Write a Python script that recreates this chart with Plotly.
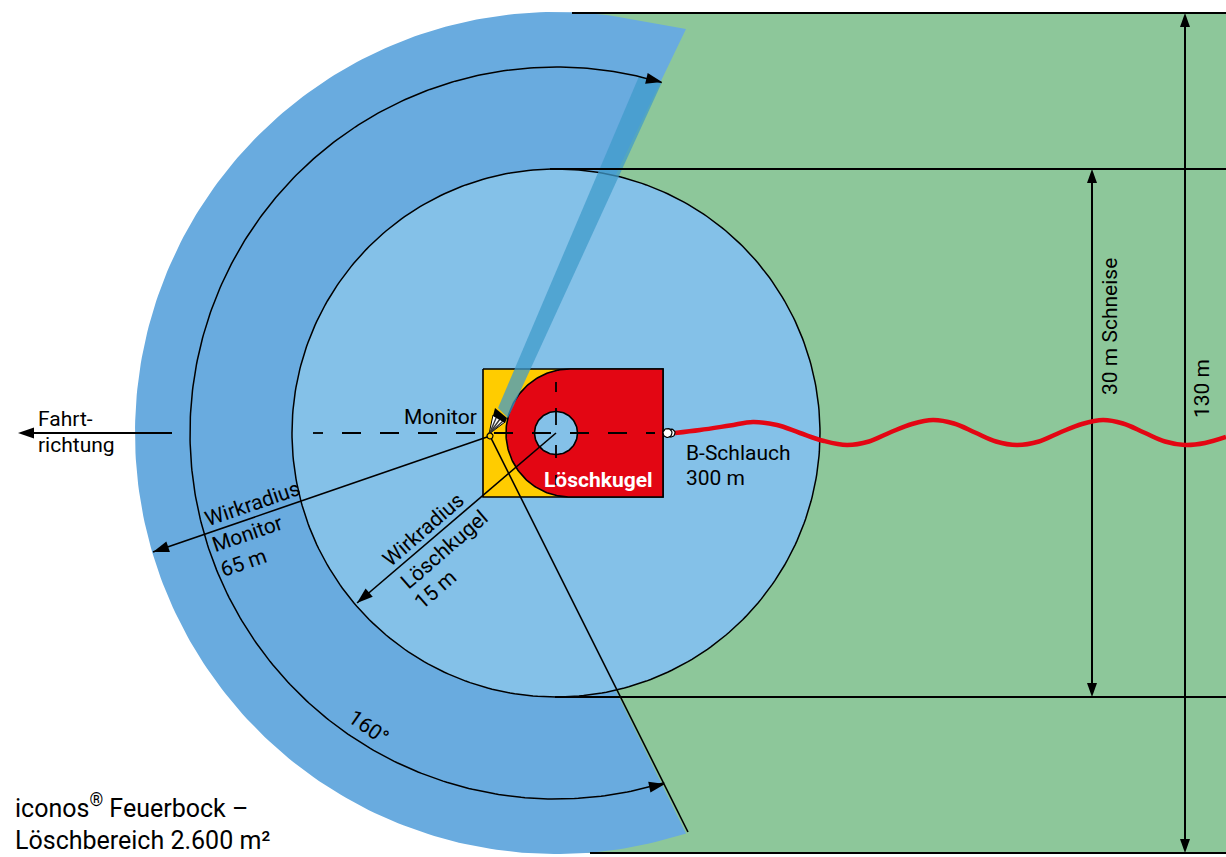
import numpy as np
import plotly.graph_objects as go

# ---- diagram geometry (drawing units) ----
CENTER = (556, 433)
MONITOR = (490, 436)
R_OUTER, R_MID, R_INNER = 421, 366, 264
R_BALL, R_HOLE = 64, 21.5
D_CENTER_X = 570
BOX_X = [483, 663]
BOX_Y = [369, 497]
ANGLE_TOP = -80.0     # degrees on the outer circle
ANGLE_BOT = 72.0
SECTOR_TIP = (686, 29)
ARC_TIP_TOP = -73.2
ARC_TIP_BOT = 72.8
BANNER_Y = [13, 169, 697, 853]
BANNER_START = [572, 550, 555, 590]
HOSE_X = [675, 700, 730, 753, 777, 800, 824, 847, 869, 890, 912, 933,
          954, 975, 996, 1017, 1039, 1060, 1082, 1103, 1123, 1144, 1165, 1185, 1205, 1226]
HOSE_Y = [433, 430, 425.5, 422, 425, 433, 441, 445, 441.5, 432.5, 424, 420,
          423.5, 432.5, 441.5, 445, 441.5, 432.5, 424, 420, 423.5, 432.5, 441.5, 445, 443, 437]
VDASH_Y = [(382, 392), (408, 425), (445, 458), (475, 485)]

GREEN, BLUE_OUT, BLUE_IN = "#8DC79A", "#69ABDF", "#84C1E8"
RED, YELLOW = "#E30613", "#FFCC00"
FONT = "Roboto"
SIZE = 21

fig = go.Figure()


def poly(x, y, fill, line=None, width=0):
    fig.add_trace(go.Scatter(x=list(x), y=list(y), mode="lines", fill="toself", fillcolor=fill,
                             line=dict(color=line or "rgba(0,0,0,0)", width=width),
                             hoverinfo="skip", showlegend=False))


def line(x, y, width=1.6, dash=None, color="black", shape="linear", smoothing=None):
    ln = dict(color=color, width=width, dash=dash, shape=shape)
    if smoothing is not None:
        ln["smoothing"] = smoothing
    fig.add_trace(go.Scatter(x=list(x), y=list(y), mode="lines", line=ln,
                             hoverinfo="skip", showlegend=False))


def arc(cx, cy, r, a0, a1, n=240):
    t = np.radians(np.linspace(a0, a1, n))
    return cx + r * np.cos(t), cy + r * np.sin(t)


def head(tip, frm, length=16, half=5.5):
    tip, frm = np.array(tip, float), np.array(frm, float)
    d = (tip - frm) / np.linalg.norm(tip - frm)
    n = np.array([-d[1], d[0]])
    b = tip - d * length
    pts = [tip, b + n * half, b - n * half, tip]
    poly([p[0] for p in pts], [p[1] for p in pts], "black")


cx, cy = CENTER
# green firebreak background
poly([560, 1226, 1226, 560, 560], [BANNER_Y[0], BANNER_Y[0], BANNER_Y[3], BANNER_Y[3], BANNER_Y[0]], GREEN)

# outer sector: round the left side, closed at the monitor
ax, ay = arc(cx, cy, R_OUTER, 360 + ANGLE_TOP, ANGLE_BOT)
poly([SECTOR_TIP[0]] + list(ax) + [MONITOR[0], SECTOR_TIP[0]],
     [SECTOR_TIP[1]] + list(ay) + [MONITOR[1], SECTOR_TIP[1]], BLUE_OUT)

# inner circle
ix, iy = arc(cx, cy, R_INNER, 0, 360, 361)
poly(ix, iy, BLUE_IN, "black", 1.5)

# box and ball
poly([BOX_X[0], BOX_X[1], BOX_X[1], BOX_X[0], BOX_X[0]], [BOX_Y[0], BOX_Y[0], BOX_Y[1], BOX_Y[1], BOX_Y[0]], YELLOW, "black", 1.6)
dx, dy = arc(D_CENTER_X, cy, R_BALL, 270, 90, 120)
poly(list(dx) + [BOX_X[1], BOX_X[1], dx[0]], list(dy) + [BOX_Y[1], BOX_Y[0], dy[0]], RED, "black", 1.6)
hx, hy = arc(cx, cy, R_HOLE, 0, 360, 120)
poly(hx, hy, BLUE_IN, "black", 1.6)

# water jet, bounded by the sweep arc
jx_t, jy_t = arc(cx, cy, R_MID, -76.9, -73.2, 12)
poly([498, 508] + list(jx_t[::-1]) + [498], [408, 418] + list(jy_t[::-1]) + [408], "rgba(64,155,203,0.75)")

# horizontal lines
for y, x0 in zip(BANNER_Y, BANNER_START):
    line([x0, 1226], [y, y], 2)

# dashed axes
line([313, 323], [cy, cy], 1.8)
line([342, 655], [cy, cy], 1.8, "19px,19px")
for y0, y1 in VDASH_Y:
    line([cx, cx], [y0, y1], 1.8)

# sweep arc
mx, my = arc(cx, cy, R_MID, 360 + ARC_TIP_TOP, ARC_TIP_BOT, 360)
line(mx, my, 1.5)
head((662, 82), (mx[6], my[6]))
head((665, 784), (mx[-7], my[-7]))

# sector closing line
line([MONITOR[0], 688], [MONITOR[1], 832], 1.6)

# radius arrows
line([MONITOR[0], 153], [MONITOR[1], 552], 1.6)
head((153, 552), MONITOR)
line([cx, 357], [cy, 603], 1.6)
head((357, 603), CENTER)

# travel direction arrow
line([172, 30], [433, 433], 2)
head((18, 433), (172, 433))

# dimensions
line([1185, 1185], [BANNER_Y[0] + 4, BANNER_Y[3] - 4], 2)
head((1185, BANNER_Y[0]), (1185, 100), 14, 5)
head((1185, BANNER_Y[3]), (1185, 700), 14, 5)
line([1092, 1092], [BANNER_Y[1] + 4, BANNER_Y[2] - 4], 2)
head((1092, BANNER_Y[1]), (1092, 300), 14, 5)
head((1092, BANNER_Y[2]), (1092, 500), 14, 5)

# hose
line(HOSE_X, HOSE_Y, 4.5, color=RED, shape="spline", smoothing=1.0)
px, py = arc(671, cy, 4, 0, 360, 30)
poly(px, py, "white", "black", 1.2)
px, py = arc(667.5, cy, 4.5, 0, 360, 30)
poly(px, py, "white", "black", 1.2)

# monitor nozzle
poly([489, 493, 505, 489], [434, 415, 422, 434], "white", "black", 1)
for tx, ty in [(496.5, 417), (500, 419), (503, 421)]:
    line([489.5, tx], [433.5, ty], 1.4, color="#333333")
poly([495, 507, 505, 493, 495], [408, 418, 423, 416, 408], "black")
nx, ny = arc(MONITOR[0], MONITOR[1], 3, 0, 360, 30)
poly(nx, ny, YELLOW, "black", 1.2)


def text(x, y, s, size=SIZE, color="black", anchor="center", angle=0, yanchor="middle"):
    fig.add_annotation(x=x, y=y, text=s, showarrow=False, xanchor=anchor, yanchor=yanchor, align="left",
                       textangle=angle, font=dict(family=FONT, size=size, color=color))


text(440, 417, "Monitor")
text(598, 480, "<b>Löschkugel</b>", 21, "white")
text(684, 453, "B-Schlauch", anchor="left")
text(684, 478, "300 m", anchor="left")
text(36, 419, "Fahrt-", anchor="left")
text(36, 445, "richtung", anchor="left")
text(252, 504, "Wirkradius", angle=-19)
text(247, 534, "Monitor", angle=-19)
text(243, 563, "65 m", angle=-19)
text(423, 530, "Wirkradius", angle=-41)
text(444, 550, "Löschkugel", angle=-41)
text(435, 590, "15 m", angle=-41)
text(368, 727, "160°", angle=35)
text(1110, 327, "30 m Schneise", angle=-90)
text(1202, 389, "130 m", angle=-90)
text(13, 856.5, "iconos<sup>®</sup> Feuerbock –<br>Löschbereich 2.600 m²", 25, anchor="left", yanchor="bottom")

fig.update_layout(width=1226, height=857, margin=dict(l=0, r=0, t=0, b=0),
                  paper_bgcolor="white", plot_bgcolor="white", showlegend=False)
fig.update_xaxes(range=[0, 1226], visible=False, fixedrange=True)
fig.update_yaxes(range=[857, 0], visible=False, fixedrange=True)
fig.write_html("out.html", config={"displayModeBar": False},
               post_script="document.body.style.margin='0';document.body.style.overflow='hidden';")
